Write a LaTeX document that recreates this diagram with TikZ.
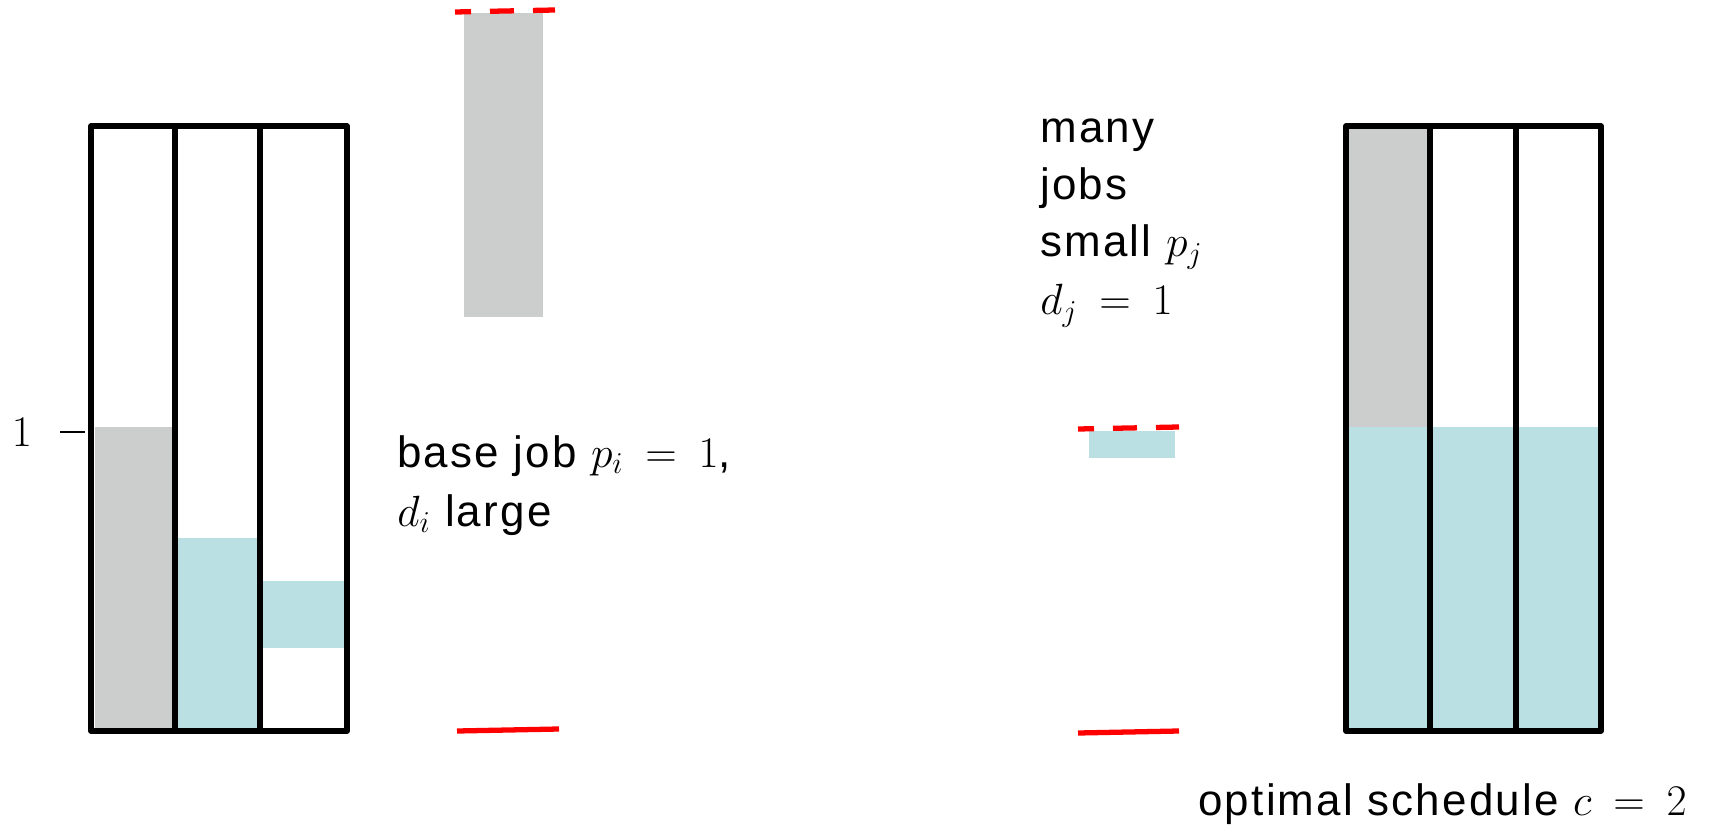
\documentclass[tikz,border=0pt]{standalone}
\usepackage{fontspec}
\setmainfont[LetterSpace=5]{Liberation Sans}
\usepackage{tikz}
\usetikzlibrary{positioning}

\definecolor{jobgray}{RGB}{204,206,205}
\definecolor{jobteal}{RGB}{187,224,227}
\thickmuskip=9mu plus 2mu

\begin{document}
\begin{tikzpicture}[
  x=0.02cm, y=-0.02cm,
  machine/.style={draw=black, line width=3.1pt, line join=round},
  basejob/.style={fill=jobgray},
  smalljob/.style={fill=jobteal},
  deadline/.style={draw=red, line width=3pt},
  dline/.style={deadline, dash pattern=on 0.48cm off 0.38cm, dash phase=0.16cm},
  lbl/.style={font=\fontsize{25}{30}\selectfont, inner sep=0pt, anchor=base west}
]
\useasboundingbox (0,0) rectangle (1716,827);

% left: schedule on three machines
\fill [basejob] (95,427) rectangle (175,731);
\fill [smalljob] (175,538) rectangle (260,731);
\fill [smalljob] (260,581) rectangle (347,648);
\foreach \xa/\xb in {91/175,175/260,260/347} {
  \draw [machine] (\xa,126) rectangle (\xb,731);
}
\node [lbl, anchor=center] (one) at (22,432) {$1$};
\draw [line width=1pt] (60,432) -- (85,432);

% base job and its deadlines
\fill [basejob] (464,13) rectangle (543,317);
\draw [dline] (455,12) -- (555,10);
\draw [deadline] (457,731) -- (559,729);
\node [lbl] (base1) at (397,467) {base job $p_i = 1$,};
\node [lbl] (base2) at (397,526) {$d_i$ large};

% small jobs and their deadlines
\node [lbl] (many1) at (1040,143) {many};
\node [lbl] (many2) at (1040,200) {jobs};
\node [lbl] (many3) at (1040,257) {small $p_j$};
\node [lbl] (many4) at (1040,315) {$d_j = 1$};
\fill [smalljob] (1089,431) rectangle (1175,458);
\draw [dline] (1078,429) -- (1179,427);
\draw [deadline] (1078,733) -- (1179,731);

% right: optimal schedule
\fill [basejob] (1346,126) rectangle (1430,427);
\fill [smalljob] (1346,427) rectangle (1601,731);
\foreach \xa/\xb in {1346/1430,1430/1516,1516/1601} {
  \draw [machine] (\xa,126) rectangle (\xb,731);
}
\node [lbl] (opt) at (1198,815) {optimal schedule $c = 2$};
\end{tikzpicture}
\end{document}
